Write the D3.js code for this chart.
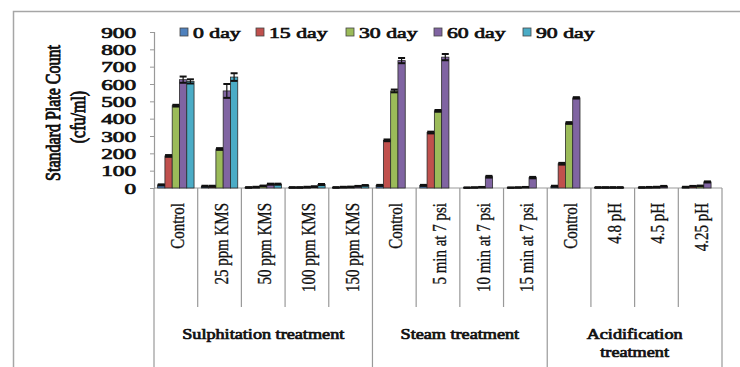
<!DOCTYPE html>
<html>
<head>
<meta charset="utf-8">
<script src="https://cdn.jsdelivr.net/npm/d3@7"></script>
<style>
  html, body { margin: 0; padding: 0; background: #fff; }
  svg { display: block; }
  text { font-family: "Liberation Serif", "Times New Roman", serif; fill: #111; }
  /* heavy serif text drawn by thickening the regular face */
  text.heavy { stroke: #111; stroke-width: 0.7px; paint-order: fill; }
</style>
</head>
<body>
<svg id="chart" width="740" height="367"></svg>
<script>
// Treatments (x categories) and the treatment group each one belongs to
const categories = ["Control", "25 ppm KMS", "50 ppm KMS", "100 ppm KMS", "150 ppm KMS",
                    "Control", "5 min at 7 psi", "10 min at 7 psi", "15 min at 7 psi",
                    "Control", "4.8 pH", "4.5 pH", "4.25 pH"];
const groups = [
  { name: ["Sulphitation treatment"], first: 0, last: 4 },
  { name: ["Steam treatment"], first: 5, last: 8 },
  { name: ["Acidification", "treatment"], first: 9, last: 12 }
];

// Storage days (series)
const seriesNames = ["0 day", "15 day", "30 day", "60 day", "90 day"];
const seriesColors = ["#4F81BD", "#C0504D", "#9BBB59", "#8064A2", "#4BACC6"];

// Standard plate count (cfu/ml) per storage day, one value per treatment
const day0  = [18, 10, 3, 3, 3, 15, 15, 2, 2, 10, 3, 3, 5];
const day15 = [185, 10, 5, 3, 5, 275, 320, 3, 3, 140, 3, 4, 10];
const day30 = [475, 225, 12, 5, 6, 560, 445, 5, 5, 375, 3, 5, 12];
const day60 = [625, 560, 22, 8, 10, 735, 755, 65, 60, 520, 3, 10, 35];
const day90 = [615, 640, 22, 20, 15, null, null, null, null, null, null, null, null];

// Standard errors
const err0  = [3, 3, 2, 2, 2, 3, 3, 1, 1, 3, 2, 2, 2];
const err15 = [5, 3, 2, 2, 2, 5, 5, 1, 1, 5, 2, 2, 2];
const err30 = [5, 5, 2, 2, 2, 8, 5, 1, 1, 5, 2, 2, 2];
const err60 = [18, 40, 3, 2, 2, 15, 18, 5, 4, 4, 2, 2, 3];
const err90 = [12, 22, 3, 3, 2, null, null, null, null, null, null, null, null];

const yTicks = [0, 100, 200, 300, 400, 500, 600, 700, 800, 900];

const values = [day0, day15, day30, day60, day90];
const errors = [err0, err15, err30, err60, err90];

// horizontal widening applied to the lettering
const sx = 1.3, sxTick = 1.55, sxLegend = 1.45;

const svg = d3.select("#chart");

// Outer frame
svg.append("rect")
  .attr("x", 13.5).attr("y", 11.5).attr("width", 760).attr("height", 400)
  .attr("fill", "none").attr("stroke", "#a6a6a6").attr("stroke-width", 1.5);

const plotLeft = 154, plotRight = 722, plotTop = 32, base = 188;

const x0 = d3.scaleBand().domain(d3.range(categories.length)).range([plotLeft, plotRight])
  .paddingInner(0).paddingOuter(0);
const x1 = d3.scaleBand().domain(seriesNames).range([0, x0.bandwidth()])
  .paddingInner(0).paddingOuter(0.5);
const y = d3.scaleLinear().domain([0, 900]).range([base, plotTop]);

// Y axis
const yAxis = svg.append("g").attr("transform", `translate(${plotLeft},0)`)
  .call(d3.axisLeft(y).tickValues(yTicks).tickSize(4));
yAxis.select(".domain").attr("stroke", "#999").attr("stroke-width", 1.2);
yAxis.selectAll(".tick line").attr("stroke", "#999");
yAxis.selectAll(".tick text")
  .attr("class", "heavy")
  .attr("x", 0).attr("dy", "0.34em")
  .attr("transform", `translate(-18,0) scale(${sxTick},1)`)
  .style("font-family", '"Liberation Serif", serif')
  .style("font-size", "15px").attr("fill", "#111");

// Y axis title
const yTitle = [["Standard Plate Count", 60, 113], ["(cfu/ml)", 85, 117]];
svg.selectAll(".ytitle").data(yTitle).join("text")
  .attr("class", "ytitle heavy")
  .attr("transform", d => `translate(${d[1]},${d[2]}) scale(${sx},1) rotate(-90)`)
  .attr("text-anchor", "middle")
  .style("font-size", "16px")
  .text(d => d[0]);

// Category axis: baseline, dividers, labels
const axisG = svg.append("g");
axisG.append("line").attr("x1", plotLeft).attr("x2", plotRight).attr("y1", base).attr("y2", base)
  .attr("stroke", "#999").attr("stroke-width", 1.2);

const groupEdges = new Set(groups.flatMap(g => [g.first, g.last + 1]));
d3.range(categories.length + 1).forEach(i => {
  const xx = i < categories.length ? x0(i) : plotRight;
  axisG.append("line")
    .attr("x1", xx).attr("x2", xx)
    .attr("y1", base).attr("y2", groupEdges.has(i) ? 380 : 307)
    .attr("stroke", "#999").attr("stroke-width", 1.2);
});

axisG.selectAll(".cat").data(categories).join("text")
  .attr("class", "cat")
  .attr("transform", (d, i) => `translate(${x0(i) + x0.bandwidth() / 2 + 8},203) scale(${sx},1) rotate(-90)`)
  .attr("text-anchor", "end")
  .style("font-size", "15px")
  .style("stroke", "#111").style("stroke-width", "0.25px")
  .text(d => d);

groups.forEach(g => {
  const gx = (x0(g.first) + (g.last + 1 < categories.length ? x0(g.last + 1) : plotRight)) / 2;
  g.name.forEach((line, k) => {
    axisG.append("text")
      .attr("class", "heavy")
      .attr("text-anchor", "middle")
      .attr("transform", `translate(${gx},${339 + k * 18}) scale(${sx},1)`)
      .style("font-size", "14px")
      .text(line);
  });
});

// Bars
const barData = [];
values.forEach((vals, s) => vals.forEach((v, c) => {
  if (v !== null) barData.push({ s, c, v, e: errors[s][c] });
}));

const plot = svg.append("g");
plot.selectAll(".bar").data(barData).join("rect")
  .attr("class", "bar")
  .attr("x", d => x0(d.c) + x1(seriesNames[d.s]))
  .attr("y", d => y(d.v))
  .attr("width", x1.bandwidth())
  .attr("height", d => base - y(d.v))
  .attr("fill", d => seriesColors[d.s])
  .attr("stroke", "#2b2b2b").attr("stroke-width", 0.8);

// Error bars
const eb = plot.selectAll(".err").data(barData).join("g").attr("class", "err");
const barCenter = d => x0(d.c) + x1(seriesNames[d.s]) + x1.bandwidth() / 2;
eb.append("line")
  .attr("x1", barCenter).attr("x2", barCenter)
  .attr("y1", d => y(d.v + d.e)).attr("y2", d => y(Math.max(0, d.v - d.e)))
  .attr("stroke", "#111").attr("stroke-width", 1.2);
[1, -1].forEach(sign => {
  eb.append("line")
    .attr("x1", d => barCenter(d) - 3.5).attr("x2", d => barCenter(d) + 3.5)
    .attr("y1", d => y(Math.max(0, d.v + sign * d.e))).attr("y2", d => y(Math.max(0, d.v + sign * d.e)))
    .attr("stroke", "#111").attr("stroke-width", 2);
});

// Legend
const legendX = [180, 256, 346, 434, 523];
const legend = svg.append("g").selectAll("g").data(seriesNames).join("g")
  .attr("transform", (d, i) => `translate(${legendX[i]},33)`);
legend.append("rect").attr("x", 0).attr("y", -5).attr("width", 8).attr("height", 8)
  .attr("fill", (d, i) => seriesColors[i]).attr("stroke", "#444").attr("stroke-width", 0.8);
legend.append("text").attr("class", "heavy")
  .attr("transform", `translate(13,5) scale(${sxLegend},1)`)
  .style("font-size", "15px").text(d => d);
</script>
</body>
</html>
